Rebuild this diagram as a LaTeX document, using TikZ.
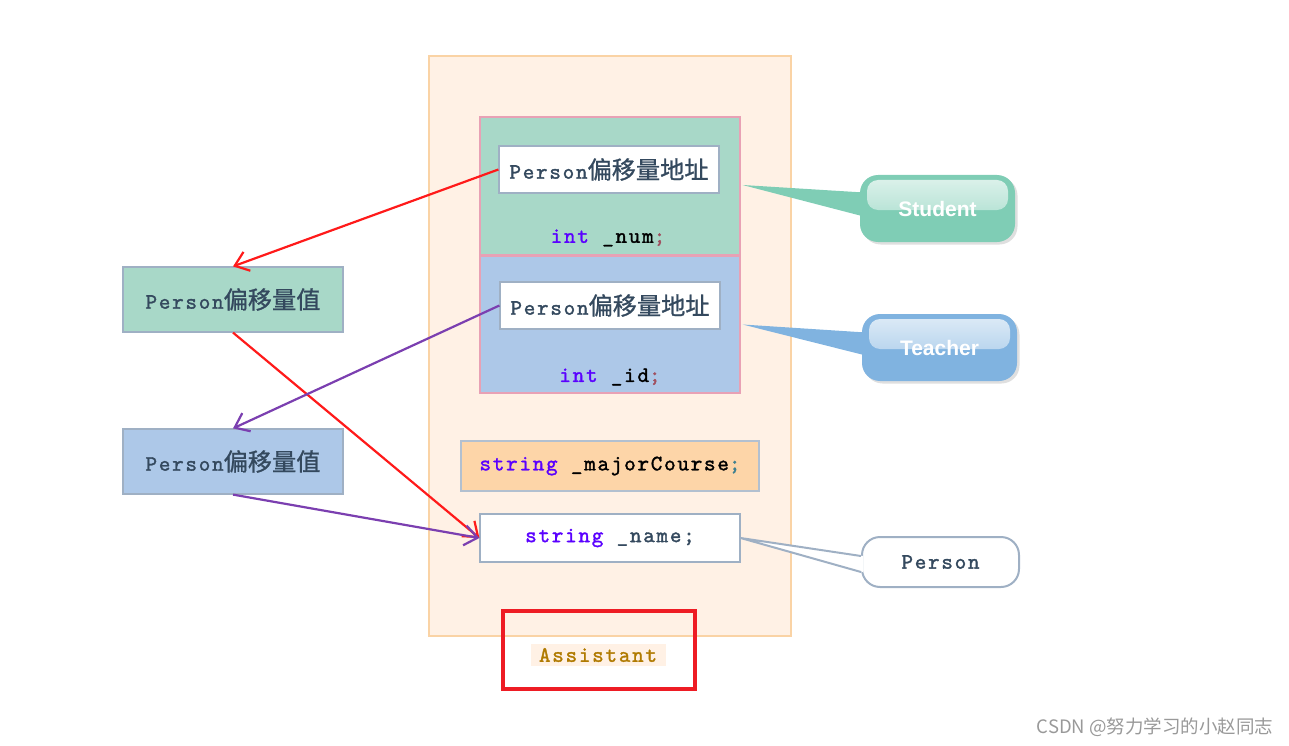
\documentclass[tikz,border=0pt]{standalone}
\usepackage{fontspec}
\usepackage{xcolor}
\usetikzlibrary{arrows.meta,shadows}
\newfontfamily\cjk{Noto Sans CJK SC}[Scale=1.1,FakeBold=1]
\newfontfamily\codefont{lmmono10-regular.otf}[LetterSpace=8,FakeBold=1.5]
\newfontfamily\tagfont{Liberation Sans}
\newfontfamily\markfont{Noto Sans CJK SC}
\definecolor{outerFill}{HTML}{FFF1E5}
\definecolor{outerEdge}{HTML}{FAD3A5}
\definecolor{greenFill}{HTML}{A8D8C8}
\definecolor{blueFill}{HTML}{ADC8E8}
\definecolor{pinkEdge}{HTML}{E8A1B5}
\definecolor{orangeFill}{HTML}{FDD5A8}
\definecolor{boxEdge}{HTML}{9FB0C4}
\definecolor{textDark}{HTML}{34495E}
\definecolor{keyword}{HTML}{5A00FF}
\definecolor{semiRed}{HTML}{A05060}
\definecolor{semiTeal}{HTML}{3F8090}
\definecolor{arrowRed}{HTML}{FF1A1A}
\definecolor{arrowPurple}{HTML}{7B3FB0}
\definecolor{tagGreen}{HTML}{7FCDB5}
\definecolor{tagBlue}{HTML}{80B3E0}
\definecolor{assistText}{HTML}{B07A00}
\definecolor{markRed}{HTML}{EE1C24}
\newcommand\zh[1]{{\cjk #1}}

\begin{document}
\begin{tikzpicture}[x=1pt,y=-1pt,font=\fontsize{22}{25}\selectfont\codefont,
    gloss/.style={path picture={\fill[top color=white!75!#1,bottom color=white!20!#1,rounded corners=11pt]
        ([xshift=7pt,yshift=-5pt]path picture bounding box.north west) rectangle
        ([xshift=-7pt,yshift=-35pt]path picture bounding box.north east);}}]
  \tikzstyle{box}=[draw=boxEdge,line width=1.2pt,inner sep=0pt,text=textDark]
  \tikzstyle{field}=[draw=pinkEdge,line width=1.2pt,inner sep=0pt,minimum width=260pt]
  \tikzstyle{tag}=[rounded corners=18pt,inner sep=0pt,minimum width=155pt,minimum height=67pt,
      drop shadow={shadow xshift=2.5pt,shadow yshift=-2.5pt,opacity=0.25}]
  \tikzstyle{tagtext}=[text=white,font=\fontsize{21}{24}\selectfont\tagfont\bfseries]
  \tikzstyle{link}=[line width=2.2pt,-{Straight Barb[length=13pt,width=20pt,line width=2.2pt]}]
  \useasboundingbox (0,0) rectangle (1289,746);
  % object layout
  \node[draw=outerEdge,fill=outerFill,line width=1.2pt,minimum width=362pt,minimum height=580pt] (assistant) at (610,346) {};
  \node[field,fill=greenFill,minimum height=138pt] (student) at (610,186) {};
  \node[field,fill=blueFill,minimum height=137pt] (teacher) at (610,324.5) {};
  \node[box,fill=white,minimum width=220pt,minimum height=47pt] (stuaddr) at (609,169.5) {Person\zh{偏移量地址}};
  \node[box,fill=white,minimum width=220pt,minimum height=47pt] (teaaddr) at (610,305.5) {Person\zh{偏移量地址}};
  \node (num) at (608,238) {\textcolor{keyword}{int} \_num\textcolor{semiRed}{;}};
  \node (id) at (610,377) {\textcolor{keyword}{int} \_id\textcolor{semiRed}{;}};
  \node[box,draw=boxEdge!80,fill=orangeFill,text=black,minimum width=298pt,minimum height=50pt] (major) at (610,466) {\textcolor{keyword}{string} \_majorCourse\textcolor{semiTeal}{;}};
  \node[box,fill=white,minimum width=260pt,minimum height=48pt] (name) at (610,538) {\textcolor{keyword}{string} \_name;};
  % offset values
  \node[box,fill=greenFill,minimum width=220pt,minimum height=65pt] (stuoff) at (233,299.5) {Person\zh{偏移量值}};
  \node[box,fill=blueFill,minimum width=220pt,minimum height=65pt] (teaoff) at (233,461.5) {Person\zh{偏移量值}};
  % pointers
  \draw[link,arrowRed] (stuaddr.west) -- (stuoff.north);
  \draw[link,arrowRed] (stuoff.south) -- (name.west);
  \draw[link,arrowPurple] (teaaddr.west) -- (teaoff.north);
  \draw[link,arrowPurple] (teaoff.south) -- (name.west);
  % callouts
  \node[tag,fill=tagGreen,gloss=tagGreen] (stutag) at (937.5,208.5) {};
  \fill[tagGreen] ([xshift=2pt,yshift=1pt]student.east) -- ([xshift=4pt,yshift=16pt]stutag.west) -- ([xshift=4pt,yshift=-8pt]stutag.west) -- cycle;
  \node[tagtext] at (stutag.center) {Student};
  \node[tag,fill=tagBlue,gloss=tagBlue] (teatag) at (939.5,347.5) {};
  \fill[tagBlue] ([xshift=2pt]teacher.east) -- ([xshift=4pt,yshift=15pt]teatag.west) -- ([xshift=4pt,yshift=-8pt]teatag.west) -- cycle;
  \node[tagtext] at (teatag.center) {Teacher};
  \node[draw=boxEdge,fill=white,line width=2pt,rounded corners=18pt,minimum width=157pt,minimum height=50pt,text=textDark] (pertag) at (940.5,562) {Person};
  \fill[white] (name.east) -- ([xshift=2pt,yshift=6pt]pertag.west) -- ([xshift=2pt,yshift=-10pt]pertag.west) -- cycle;
  \draw[boxEdge,line width=2pt] ([yshift=6pt]pertag.west) -- (name.east) -- ([yshift=-10pt]pertag.west);
  % class name
  \node[fill=outerFill,text=assistText,inner sep=3pt,minimum width=135pt,minimum height=22pt] (label) at (598,655) {Assistant};
  \node[draw=markRed,line width=4pt,minimum width=192pt,minimum height=78pt] (mark) at (599,650) {};
  \node[text=black!40,font=\fontsize{18.5}{22}\selectfont\markfont] (credit) at (1155,727) {CSDN @努力学习的小赵同志};
\end{tikzpicture}
\end{document}
